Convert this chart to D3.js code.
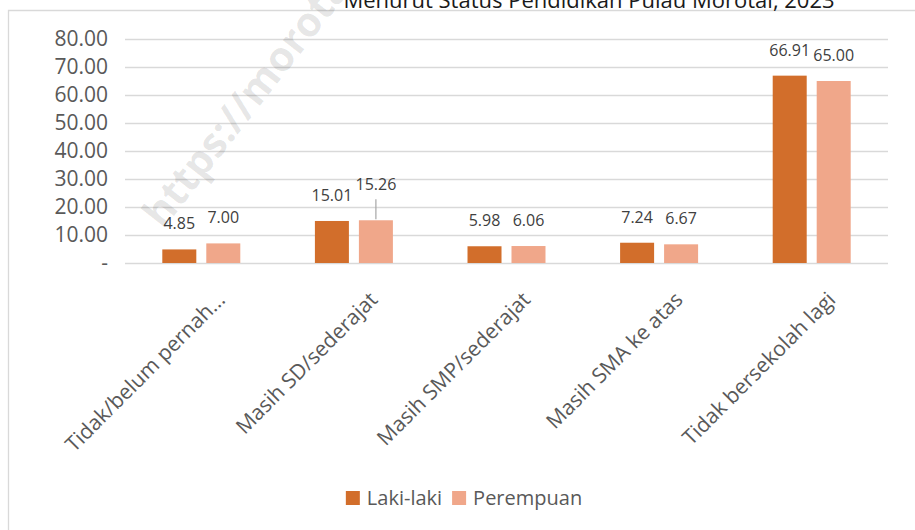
<!DOCTYPE html>
<html>
<head>
<meta charset="utf-8">
<script src="https://cdn.jsdelivr.net/npm/d3@7"></script>
<style>
  html, body { margin: 0; padding: 0; background: #fff; }
  svg { display: block; font-family: "Open Sans", sans-serif; }
  .grid line { stroke: #d9d9d9; stroke-width: 1.3; }
  .grid path { display: none; }
</style>
</head>
<body>
<script>
// Chart values.
const categories = [
    "Tidak/belum pernah...",
    "Masih SD/sederajat",
    "Masih SMP/sederajat",
    "Masih SMA ke atas",
    "Tidak bersekolah lagi"
];
const seriesNames = ["Laki-laki", "Perempuan"];
const lakiLaki = [4.85, 15.01, 5.98, 7.24, 66.91];
const perempuan = [7.00, 15.26, 6.06, 6.67, 65.00];
const yTicks = [0, 10, 20, 30, 40, 50, 60, 70, 80];
const titleText = "Menurut Status Pendidikan Pulau Morotai, 2023";
const watermarkText = "https://morotaikab.bps.go.id";

const colors = {"Laki-laki": "#d26e2b", "Perempuan": "#f0a78a"};

// one label in the picture is lifted and gets a leader line
const liftedLabels = {"Masih SD/sederajat|Perempuan": 10};

const width = 915, height = 530;
const plot = {left: 125, right: 888, top: 39, bottom: 263};

let data = [];
categories.forEach((c, i) => {
    data.push({cat: c, series: "Laki-laki", value: lakiLaki[i]});
    data.push({cat: c, series: "Perempuan", value: perempuan[i]});
});

const svg = d3.select("body").append("svg")
    .attr("width", width)
    .attr("height", height);

// chart frame (only the top and left edges are in view)
svg.append("path")
    .attr("d", "M8.5," + (height + 2) + "V10.5H" + (width + 2))
    .attr("fill", "none")
    .attr("stroke", "#d9d9d9")
    .attr("stroke-width", 1.3);

// title, clipped by the top edge like in the reference
svg.append("text")
    .attr("x", 589)
    .attr("y", 8)
    .attr("text-anchor", "middle")
    .attr("font-size", 22)
    .attr("fill", "#1a1a1a")
    .text(titleText);

let xScale = d3.scaleBand()
    .domain(categories)
    .range([plot.left, plot.right]);

let xInner = d3.scaleBand()
    .domain(seriesNames)
    .range([0, xScale.bandwidth()])
    .paddingInner(0.227)
    .paddingOuter(0.848);

let yScale = d3.scaleLinear()
    .domain([0, 80])
    .range([plot.bottom, plot.top]);

// grid lines
svg.append("g")
    .attr("class", "grid")
    .attr("transform", "translate(" + plot.left + ",0)")
    .call(d3.axisLeft(yScale)
        .tickValues(yTicks)
        .tickSize(-(plot.right - plot.left))
        .tickFormat(""));

// y axis labels
let yAxis = svg.append("g")
    .attr("transform", "translate(" + plot.left + ",0)")
    .call(d3.axisLeft(yScale)
        .tickValues(yTicks)
        .tickSize(0)
        .tickPadding(17)
        .tickFormat(d => d === 0 ? "-" : d3.format(".2f")(d)));
yAxis.select(".domain").remove();
yAxis.selectAll("text")
    .attr("font-family", "'Open Sans', sans-serif")
    .attr("font-size", 21)
    .attr("fill", "#595959");

// x axis labels, rotated
let xAxis = svg.append("g")
    .attr("transform", "translate(0," + plot.bottom + ")")
    .call(d3.axisBottom(xScale).tickSize(0));
xAxis.select(".domain").remove();
xAxis.selectAll("text")
    .attr("y", null)
    .attr("dy", null)
    .attr("text-anchor", "end")
    .attr("transform", "translate(25,38) rotate(-45)")
    .attr("font-family", "'Open Sans', sans-serif")
    .attr("font-size", 21)
    .attr("fill", "#595959");

// bars
svg.selectAll(".bar")
    .data(data)
    .enter().append("rect")
    .attr("class", "bar")
    .attr("x", d => xScale(d.cat) + xInner(d.series))
    .attr("y", d => yScale(d.value))
    .attr("width", xInner.bandwidth())
    .attr("height", d => yScale(0) - yScale(d.value))
    .attr("fill", d => colors[d.series]);

// data labels
let labelX = d => xScale(d.cat) + xInner(d.series) + xInner.bandwidth() / 2;
let lift = d => liftedLabels[d.cat + "|" + d.series] || 0;

svg.selectAll(".leader")
    .data(data.filter(d => lift(d) > 0))
    .enter().append("line")
    .attr("class", "leader")
    .attr("x1", labelX)
    .attr("x2", labelX)
    .attr("y1", d => yScale(d.value) - 21)
    .attr("y2", d => yScale(d.value) - 1)
    .attr("stroke", "#a6a6a6")
    .attr("stroke-width", 1.2);

svg.selectAll(".dlabel")
    .data(data)
    .enter().append("text")
    .attr("class", "dlabel")
    .attr("x", labelX)
    .attr("y", d => yScale(d.value) - 20 - lift(d))
    .attr("text-anchor", "middle")
    .attr("font-size", 16)
    .attr("fill", "#404040")
    .text(d => d3.format(".2f")(d.value));

// legend, centered under the chart area
let legend = svg.append("g");
let lx = 0;
seriesNames.forEach(name => {
    let g = legend.append("g").attr("transform", "translate(" + lx + ",0)");
    g.append("rect")
        .attr("x", 0).attr("y", -14)
        .attr("width", 14).attr("height", 14)
        .attr("fill", colors[name]);
    let t = g.append("text")
        .attr("x", 21).attr("y", 0)
        .attr("font-size", 20)
        .attr("fill", "#595959")
        .text(name);
    lx += 21 + t.node().getComputedTextLength() + 10;
});
let legendWidth = lx - 10;
legend.attr("transform", "translate(" + (464 - legendWidth / 2) + ",505)");

// watermark
svg.append("text")
    .attr("transform", "translate(163,230) rotate(-52)")
    .attr("font-size", 41)
    .attr("font-weight", "bold")
    .attr("fill", "#000")
    .attr("fill-opacity", 0.1)
    .text(watermarkText);
</script>
</body>
</html>
